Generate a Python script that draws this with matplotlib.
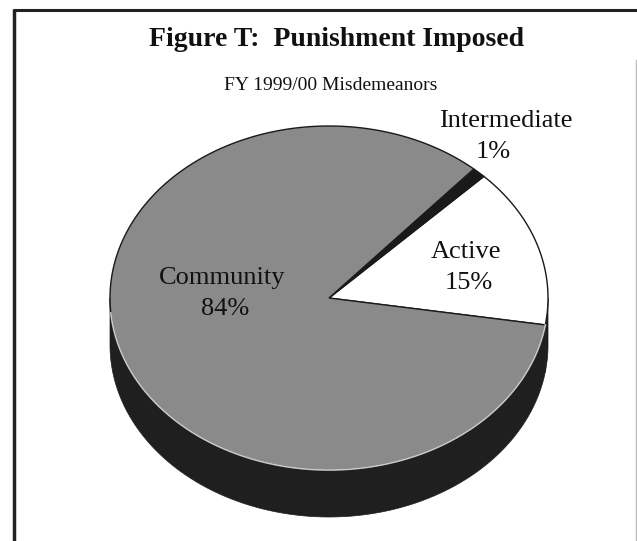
import numpy as np
import matplotlib.pyplot as plt
from matplotlib.patches import Polygon

# slice data (percent of misdemeanor punishments)
labels = ['Active', 'Intermediate', 'Community']
shares = [15, 1, 84]
top_colors = ['#ffffff', '#1a1a1a', '#8a8a8a']
side_colors = ['#1c1c1c', '#111111', '#1f1f1f']

title = 'Figure T:  Punishment Imposed'
subtitle = 'FY 1999/00 Misdemeanors'

serif = ['Liberation Serif', 'DejaVu Serif']

# pie geometry (pixels)
cx, cy, rx, ry, depth = 329, 298, 219, 172, 47
start = -9.0

fig = plt.figure(figsize=(6.37, 5.41), dpi=100)
ax = fig.add_axes([0, 0, 1, 1])
ax.set_xlim(0, 637)
ax.set_ylim(541, 0)
ax.axis('off')


def arc(t0, t1, dy=0.0):
    n = max(int(abs(t1 - t0)) * 2, 4)
    t = np.radians(np.linspace(t0, t1, n))
    return np.column_stack([cx + rx * np.cos(t), cy - ry * np.sin(t) + dy])


angles = start + np.concatenate([[0], np.cumsum(shares)]) * 3.6

# sides (front half only, 180..360 deg)
for i in range(len(shares)):
    a0, a1 = angles[i], angles[i + 1]
    for off in (0, 360):
        lo = max(a0 + off, 180)
        hi = min(a1 + off, 360)
        if hi > lo:
            top = arc(lo, hi)
            bot = arc(hi, lo, depth)
            ax.add_patch(Polygon(np.vstack([top, bot]), closed=True,
                                 facecolor=side_colors[i], edgecolor=side_colors[i], lw=0.5))

# tops
for i in range(len(shares)):
    a0, a1 = angles[i], angles[i + 1]
    pts = np.vstack([[cx, cy], arc(a0, a1)])
    ax.add_patch(Polygon(pts, closed=True, facecolor=top_colors[i],
                         edgecolor='#1a1a1a', lw=1.0, joinstyle='miter'))

# light rim along the front edge of the top
rim = arc(185, angles[0] + 360)
ax.plot(rim[:, 0], rim[:, 1], color='#c8c8c8', lw=1.2)

# labels
ax.text(222, 278, 'Community', fontsize=19, family=serif, ha='center', va='center', color='#111111')
ax.text(225, 309, f'{shares[2]}%', fontsize=19, family=serif, ha='center', va='center', color='#111111')
ax.text(466, 252, 'Active', fontsize=19, family=serif, ha='center', va='center', color='#111111')
ax.text(469, 283, f'{shares[0]}%', fontsize=19, family=serif, ha='center', va='center', color='#111111')
ax.text(506, 121, 'Intermediate', fontsize=19, family=serif, ha='center', va='center', color='#111111')
ax.text(493, 152, f'{shares[1]}%', fontsize=19, family=serif, ha='center', va='center', color='#111111')

ax.text(337, 40, title, fontsize=20, family=serif, fontweight='bold', ha='center', va='center', color='#111111')
ax.text(331, 86, subtitle, fontsize=14, family=serif, ha='center', va='center', color='#111111')

# frame
ax.plot([13, 637], [10, 10], color='#222222', lw=2.2, solid_capstyle='butt')
ax.plot([14, 14], [9, 541], color='#222222', lw=2.5, solid_capstyle='butt')
ax.plot([636, 636], [60, 541], color='#bbbbbb', lw=1.0)

fig.savefig('out.png', dpi=100, facecolor='white')
